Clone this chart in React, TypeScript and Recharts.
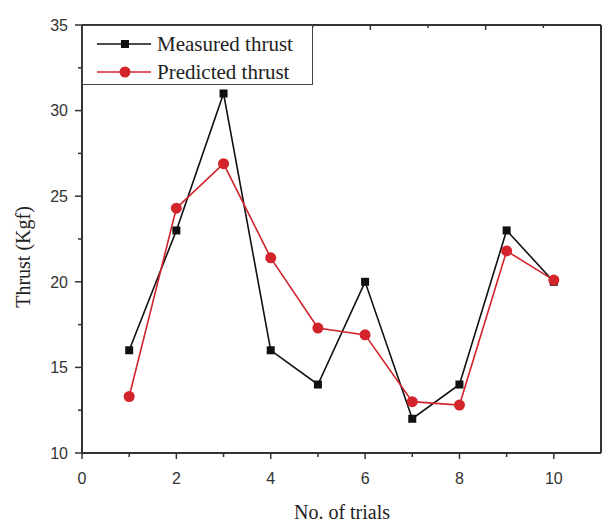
import { LineChart, Line, XAxis, YAxis } from "recharts";

const trials = [1, 2, 3, 4, 5, 6, 7, 8, 9, 10];
const measuredThrust = [16, 23, 31, 16, 14, 20, 12, 14, 23, 20];
const predictedThrust = [13.3, 24.3, 26.9, 21.4, 17.3, 16.9, 13.0, 12.8, 21.8, 20.1];

const xTicks = [0, 1, 2, 3, 4, 5, 6, 7, 8, 9, 10];
const xLabelTicks = [0, 2, 4, 6, 8, 10];
const topTicks = [0, 1, 2, 3, 4, 5, 6, 7, 8, 9];
const yTicks = [10, 12.5, 15, 17.5, 20, 22.5, 25, 27.5, 30, 32.5, 35];
const yLabelTicks = [10, 15, 20, 25, 30, 35];

const data = trials.map((t, i) => ({
  trial: t,
  measured: measuredThrust[i],
  predicted: predictedThrust[i],
}));

const AXIS = "#333";
const RED = "#d3232b";
const tickFont = { fontFamily: "'Liberation Sans', Arial, sans-serif", fontSize: 16, fill: "#333" };
const titleFont = { fontFamily: "'Liberation Serif', 'Times New Roman', serif", fontSize: 20, fill: "#222" };

const BottomTick = (p: any) => {
  const major = xLabelTicks.includes(p.payload.value);
  return (
    <g>
      <line x1={p.x} y1={p.y} x2={p.x} y2={p.y + (major ? 6 : 4)} stroke={AXIS} strokeWidth={1.5} />
      {major && (
        <text x={p.x} y={p.y + 31} textAnchor="middle" {...tickFont}>
          {p.payload.value}
        </text>
      )}
    </g>
  );
};

const TopTick = (p: any) => {
  const major = p.payload.value % 2 === 1;
  return <line x1={p.x} y1={p.y} x2={p.x} y2={p.y + (major ? 5 : 3)} stroke={AXIS} strokeWidth={1.5} />;
};

const LeftTick = (p: any) => {
  const major = yLabelTicks.includes(p.payload.value);
  return (
    <g>
      <line x1={p.x} y1={p.y} x2={p.x - (major ? 7 : 4)} y2={p.y} stroke={AXIS} strokeWidth={1.5} />
      {major && (
        <text x={p.x - 14} y={p.y} dy="0.36em" textAnchor="end" {...tickFont}>
          {p.payload.value}
        </text>
      )}
    </g>
  );
};

const RightTick = (p: any) => {
  const major = yLabelTicks.includes(p.payload.value);
  return <line x1={p.x} y1={p.y} x2={p.x - (major ? 6 : 4)} y2={p.y} stroke={AXIS} strokeWidth={1.5} />;
};

const SquareDot = (p: any) => (
  <rect key={`sq-${p.index}`} x={p.cx - 4} y={p.cy - 4} width={8} height={8} fill="#111" />
);

const CircleDot = (p: any) => (
  <circle key={`ci-${p.index}`} cx={p.cx} cy={p.cy} r={5.5} fill={RED} />
);

export default function App() {
  return (
    <div style={{ position: "absolute", left: 0, top: 0, width: 602, height: 523, background: "#fff", overflow: "hidden" }}>
      <LineChart width={602} height={523} data={data} margin={{ top: 25, right: 1, bottom: 0, left: 0 }}>
        <XAxis
          xAxisId="b"
          dataKey="trial"
          type="number"
          domain={[0, 11]}
          ticks={xTicks}
          interval={0}
          tickSize={0}
          tickMargin={0}
          tickLine={false}
          tick={(p: any) => <BottomTick {...p} />}
          axisLine={{ stroke: AXIS, strokeWidth: 2 }}
          height={70}
          label={() => (
            <text x={342} y={519} textAnchor="middle" {...titleFont}>
              No. of trials
            </text>
          )}
        />
        <XAxis
          xAxisId="t"
          orientation="top"
          mirror
          type="number"
          domain={[-1, 9]}
          allowDataOverflow
          ticks={topTicks}
          interval={0}
          tickSize={0}
          tickMargin={0}
          tickLine={false}
          tick={(p: any) => <TopTick {...p} />}
          axisLine={{ stroke: AXIS, strokeWidth: 2 }}
          height={1}
        />
        <YAxis
          yAxisId="l"
          type="number"
          domain={[10, 35]}
          ticks={yTicks}
          interval={0}
          tickSize={0}
          tickMargin={0}
          tickLine={false}
          tick={(p: any) => <LeftTick {...p} />}
          axisLine={{ stroke: AXIS, strokeWidth: 2 }}
          width={82}
          label={() => (
            <text x={30} y={257} transform="rotate(-90 30 257)" textAnchor="middle" {...titleFont}>
              Thrust (Kgf)
            </text>
          )}
        />
        <YAxis
          yAxisId="r"
          orientation="right"
          mirror
          type="number"
          domain={[10, 35]}
          ticks={yTicks}
          interval={0}
          tickSize={0}
          tickMargin={0}
          tickLine={false}
          tick={(p: any) => <RightTick {...p} />}
          axisLine={{ stroke: AXIS, strokeWidth: 2 }}
          width={1}
        />
        <Line
          xAxisId="b"
          yAxisId="l"
          type="linear"
          dataKey="measured"
          stroke="#111"
          strokeWidth={1.6}
          dot={(p: any) => <SquareDot {...p} />}
          isAnimationActive={false}
        />
        <Line
          xAxisId="b"
          yAxisId="l"
          type="linear"
          dataKey="predicted"
          stroke={RED}
          strokeWidth={1.6}
          dot={(p: any) => <CircleDot {...p} />}
          isAnimationActive={false}
        />
      </LineChart>
      <div
        style={{
          position: "absolute",
          left: 82,
          top: 25,
          width: 231,
          height: 60,
          boxSizing: "border-box",
          border: "1px solid #444",
          background: "#fff",
        }}
      >
        {[
          { name: "Measured thrust", color: "#111", square: true, cy: 18 },
          { name: "Predicted thrust", color: RED, square: false, cy: 46 },
        ].map((item) => (
          <div key={item.name} style={{ position: "absolute", left: 0, top: item.cy - 12, height: 24, width: 229 }}>
            <svg width={70} height={24} style={{ position: "absolute", left: 0, top: 0 }}>
              <line x1={14} y1={12} x2={68} y2={12} stroke={item.color} strokeWidth={1.6} />
              {item.square ? (
                <rect x={38} y={8} width={8} height={8} fill={item.color} />
              ) : (
                <circle cx={42} cy={12} r={5.5} fill={item.color} />
              )}
            </svg>
            <span
              style={{
                position: "absolute",
                left: 74,
                top: 0,
                lineHeight: "24px",
                fontFamily: "'Liberation Serif', 'Times New Roman', serif",
                fontSize: 21,
                color: "#222",
                whiteSpace: "nowrap",
              }}
            >
              {item.name}
            </span>
          </div>
        ))}
      </div>
    </div>
  );
}
